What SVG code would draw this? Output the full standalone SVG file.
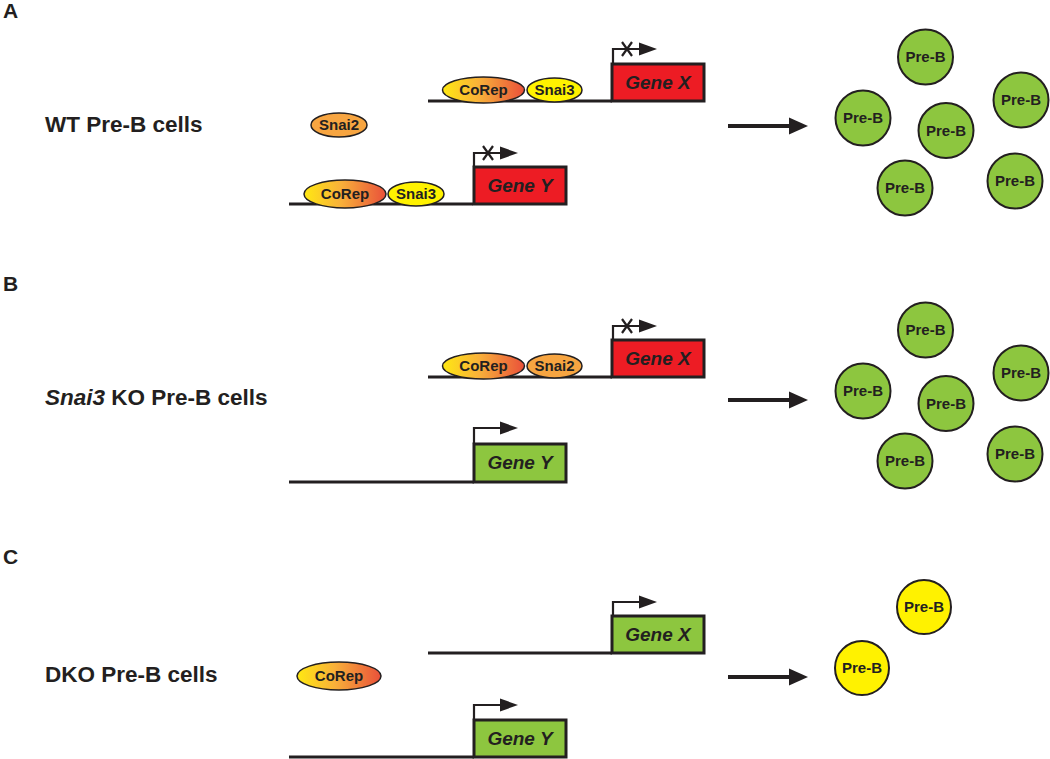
<svg xmlns="http://www.w3.org/2000/svg" width="1050" height="759" viewBox="0 0 1050 759">
<defs>
<linearGradient id="corep" x1="0" y1="0" x2="1" y2="0">
<stop offset="0" stop-color="#FFE812"/>
<stop offset="0.45" stop-color="#F8B03A"/>
<stop offset="1" stop-color="#E9503A"/>
</linearGradient>
<style>
.lab{font-family:"Liberation Sans",Arial,sans-serif;font-weight:bold;fill:#231F20}
.panel{font-size:21px}
.big{font-size:22.5px}
.gene{font-size:19px;font-style:italic;text-anchor:middle}
.prot{font-size:15px;text-anchor:middle}
.cellt{font-size:15px;text-anchor:middle}
.dna{stroke:#231F20;stroke-width:3;fill:none}
.box{stroke:#231F20;stroke-width:3}
.red{fill:#ED1C24}
.grn{fill:#8DC63F}
.prom{stroke:#231F20;stroke-width:2.2;fill:none}
.head{fill:#231F20}
.ell{stroke:#231F20;stroke-width:1.5}
.cell{stroke:#231F20;stroke-width:2}
.gc{fill:#8DC63F}
.yc{fill:#FFF200}
.arrow{stroke:#231F20;stroke-width:4}
</style>
</defs>
<rect width="1050" height="759" fill="#fff"/>

<g id="labels">
<text class="lab panel" x="3" y="18">A</text>
<text class="lab big" x="45" y="132">WT Pre-B cells</text>
<text class="lab panel" x="3" y="291">B</text>
<text class="lab big" x="45" y="405"><tspan font-style="italic">Snai3</tspan> KO Pre-B cells</text>
<text class="lab panel" x="3" y="564">C</text>
<text class="lab big" x="45" y="682">DKO Pre-B cells</text>
</g>

<!-- Panel A -->
<g id="A-geneX">
<line class="dna" x1="428" y1="101" x2="612" y2="101"/>
<rect class="box red" x="612" y="64" width="92" height="37"/>
<text class="lab gene" x="658" y="89">Gene X</text>
<path class="prom" d="M613,64 V49 H641"/>
<polygon class="head" points="639,42.5 657,49 639,55.5"/>
<path class="prom" d="M622,42 L632,56 M632,42 L622,56" stroke-width="1.5"/>
</g>
<g id="A-corep1">
<ellipse class="ell" cx="483.5" cy="90" rx="41" ry="13" fill="url(#corep)"/>
<text class="lab prot" x="483.5" y="95">CoRep</text>
</g>
<g id="A-snai3a">
<ellipse class="ell" cx="554.5" cy="90" rx="27.5" ry="12" fill="#FFF200"/>
<text class="lab prot" x="554.5" y="95">Snai3</text>
</g>
<g id="A-snai2">
<ellipse class="ell" cx="339" cy="125" rx="28" ry="12" fill="#F7A541"/>
<text class="lab prot" x="339" y="130">Snai2</text>
</g>
<g id="A-geneY">
<line class="dna" x1="289" y1="204" x2="473" y2="204"/>
<rect class="box red" x="474" y="167" width="92" height="37"/>
<text class="lab gene" x="520" y="192">Gene Y</text>
<path class="prom" d="M474,167 V153 H502"/>
<polygon class="head" points="500,146.5 518,153 500,159.5"/>
<path class="prom" d="M483,146 L493,160 M493,146 L483,160" stroke-width="1.5"/>
</g>
<g id="A-corep2">
<ellipse class="ell" cx="345" cy="194" rx="41" ry="14" fill="url(#corep)"/>
<text class="lab prot" x="345" y="199">CoRep</text>
</g>
<g id="A-snai3b">
<ellipse class="ell" cx="416" cy="194" rx="28" ry="12" fill="#FFF200"/>
<text class="lab prot" x="416" y="199">Snai3</text>
</g>
<g id="A-cells">
<circle class="cell gc" cx="925.5" cy="57" r="27.5"/><text class="lab cellt" x="925.5" y="62">Pre-B</text>
<circle class="cell gc" cx="863" cy="118" r="27.5"/><text class="lab cellt" x="863" y="123">Pre-B</text>
<circle class="cell gc" cx="946" cy="130.5" r="27.5"/><text class="lab cellt" x="946" y="135.5">Pre-B</text>
<circle class="cell gc" cx="1021" cy="100" r="27.5"/><text class="lab cellt" x="1021" y="105">Pre-B</text>
<circle class="cell gc" cx="905" cy="188" r="27.5"/><text class="lab cellt" x="905" y="193">Pre-B</text>
<circle class="cell gc" cx="1015" cy="181" r="27.5"/><text class="lab cellt" x="1015" y="186">Pre-B</text>
</g>

<!-- Panel B -->
<g id="B-geneX">
<line class="dna" x1="428" y1="377" x2="612" y2="377"/>
<rect class="box red" x="612" y="340" width="92" height="37"/>
<text class="lab gene" x="658" y="365">Gene X</text>
<path class="prom" d="M613,340 V326 H641"/>
<polygon class="head" points="639,319.5 657,326 639,332.5"/>
<path class="prom" d="M622,319 L632,333 M632,319 L622,333" stroke-width="1.5"/>
</g>
<g id="B-corep">
<ellipse class="ell" cx="483.5" cy="366" rx="41" ry="13" fill="url(#corep)"/>
<text class="lab prot" x="483.5" y="371">CoRep</text>
</g>
<g id="B-snai2">
<ellipse class="ell" cx="554.5" cy="366" rx="27.5" ry="12" fill="#F7A541"/>
<text class="lab prot" x="554.5" y="371">Snai2</text>
</g>
<g id="B-geneY">
<line class="dna" x1="289" y1="482" x2="474" y2="482"/>
<rect class="box grn" x="474" y="444" width="92" height="38"/>
<text class="lab gene" x="520" y="469">Gene Y</text>
<path class="prom" d="M474,444 V428 H502"/>
<polygon class="head" points="500,421.5 518,428 500,434.5"/>
</g>
<g id="B-cells">
<circle class="cell gc" cx="925.5" cy="330" r="27.5"/><text class="lab cellt" x="925.5" y="335">Pre-B</text>
<circle class="cell gc" cx="863" cy="391" r="27.5"/><text class="lab cellt" x="863" y="396">Pre-B</text>
<circle class="cell gc" cx="946" cy="403.5" r="27.5"/><text class="lab cellt" x="946" y="408.5">Pre-B</text>
<circle class="cell gc" cx="1021" cy="373" r="27.5"/><text class="lab cellt" x="1021" y="378">Pre-B</text>
<circle class="cell gc" cx="905" cy="461" r="27.5"/><text class="lab cellt" x="905" y="466">Pre-B</text>
<circle class="cell gc" cx="1015" cy="454" r="27.5"/><text class="lab cellt" x="1015" y="459">Pre-B</text>
</g>

<!-- Panel C -->
<g id="C-geneX">
<line class="dna" x1="428" y1="653" x2="612" y2="653"/>
<rect class="box grn" x="612" y="616" width="92" height="37"/>
<text class="lab gene" x="658" y="641">Gene X</text>
<path class="prom" d="M613,616 V602 H641"/>
<polygon class="head" points="639,595.5 657,602 639,608.5"/>
</g>
<g id="C-corep">
<ellipse class="ell" cx="339" cy="676" rx="42" ry="14" fill="url(#corep)"/>
<text class="lab prot" x="339" y="681">CoRep</text>
</g>
<g id="C-geneY">
<line class="dna" x1="289" y1="757" x2="474" y2="757"/>
<rect class="box grn" x="474" y="720" width="92" height="37"/>
<text class="lab gene" x="520" y="745">Gene Y</text>
<path class="prom" d="M474,720 V705 H502"/>
<polygon class="head" points="500,698.5 518,705 500,711.5"/>
</g>
<g id="C-cells">
<circle class="cell yc" cx="924" cy="607" r="27"/><text class="lab cellt" x="924" y="612">Pre-B</text>
<circle class="cell yc" cx="862" cy="668" r="27"/><text class="lab cellt" x="862" y="673">Pre-B</text>
</g>

<g id="connectors">
<line class="arrow" x1="728" y1="126" x2="792" y2="126"/>
<polygon class="head" points="789,117.5 808,126 789,134.5"/>
<line class="arrow" x1="728" y1="400" x2="792" y2="400"/>
<polygon class="head" points="789,391.5 808,400 789,408.5"/>
<line class="arrow" x1="728" y1="677" x2="792" y2="677"/>
<polygon class="head" points="789,668.5 808,677 789,685.5"/>
</g>
</svg>
